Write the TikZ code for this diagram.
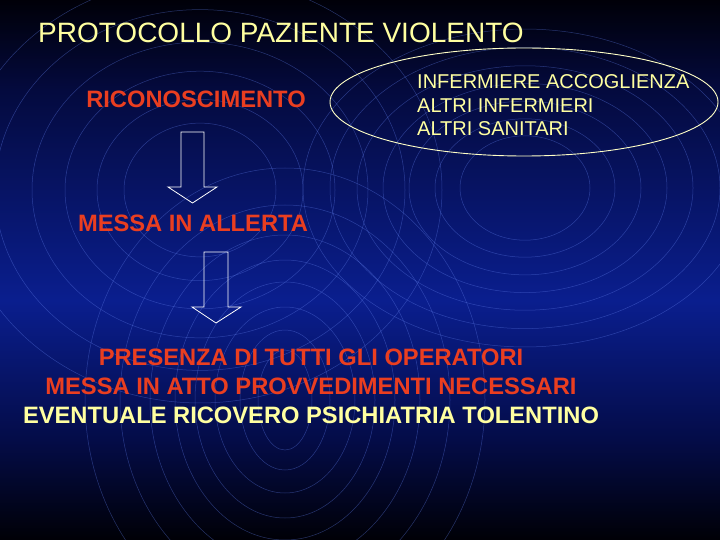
\documentclass[tikz,border=0pt]{standalone}
\usepackage{fontspec}
\setmainfont{Liberation Sans}
\usetikzlibrary{shapes.geometric}
\definecolor{ttl}{RGB}{255,255,160}
\definecolor{rd}{RGB}{234,62,32}
\definecolor{ringc}{RGB}{95,125,235}
\definecolor{bgA}{RGB}{0,0,6}
\definecolor{bgB}{RGB}{4,12,72}
\definecolor{bgC}{RGB}{10,30,142}
\definecolor{bgD}{RGB}{4,10,62}
\definecolor{bgE}{RGB}{0,0,8}
\pgfdeclareverticalshading{slidebg}{100bp}{color(0bp)=(bgA); color(25bp)=(bgA); color(34.3bp)=(bgB); color(47.2bp)=(bgC); color(66.7bp)=(bgD); color(75bp)=(bgE); color(100bp)=(bgE)}
\begin{document}
\begin{tikzpicture}[x=1pt,y=-1pt,
  ringline/.style={draw=ringc, line width=0.5pt, opacity=0.4},
  titletext/.style={text=ttl, inner sep=0pt, font=\fontsize{28}{32}\selectfont},
  redtext/.style={text=rd, inner sep=0pt, font=\bfseries\fontsize{23.7}{28}\selectfont},
  yeltext/.style={text=ttl, inner sep=0pt, font=\bfseries\fontsize{23.7}{28}\selectfont},
  grouptext/.style={text=ttl, inner sep=0pt, anchor=base west, font=\fontsize{20}{24}\selectfont},
  oval/.style={ellipse, draw=ttl!60!white, line width=0.9pt, inner sep=0pt},
  blockarrow/.style={draw=white, line width=0.8pt, line join=miter}]
\useasboundingbox (0,0) rectangle (720,540);
\shade[shading=slidebg] (0,0) rectangle (720,540);
\begin{scope}
\clip (0,0) rectangle (720,540);
% ring set A
\foreach \r in {76,103,135,168,205,242}
  \draw[ringline] (200,190) ellipse [x radius=\r, y radius=0.88*\r];
% ring set B
\foreach \r in {65,90,116,142,168,195,222}
  \draw[ringline] (525,188) ellipse [x radius=\r, y radius=0.68*\r+8];
% ring set C
\foreach \a/\b in {27/50,45/70,70/93,90/118,110/140,135/165,165/195,200/232}
  \draw[ringline] (285,400) ellipse [x radius=\a, y radius=\b];
\end{scope}
% texts
\node[titletext, anchor=base west] (title) at (38,43) {PROTOCOLLO PAZIENTE VIOLENTO};
\node[redtext, anchor=base] (ric) at (196,108) {RICONOSCIMENTO};
\node[redtext, anchor=base] (allerta) at (193,231) {MESSA IN ALLERTA};
\node[oval, minimum width=388pt, minimum height=108pt] (group) at (524,102) {};
\node[grouptext] (g1) at (417,89) {INFERMIERE ACCOGLIENZA};
\node[grouptext] (g2) at (417,112.5) {ALTRI INFERMIERI};
\node[grouptext] (g3) at (417,136) {ALTRI SANITARI};
\node[redtext, anchor=base] (op1) at (311,365) {PRESENZA DI TUTTI GLI OPERATORI};
\node[redtext, anchor=base] (op2) at (311,394) {MESSA IN ATTO PROVVEDIMENTI NECESSARI};
\node[yeltext, anchor=base] (op3) at (311,423) {EVENTUALE RICOVERO PSICHIATRIA TOLENTINO};
% block arrows
\coordinate (a1) at (192.5,132);
\draw[blockarrow] (181,132) -- (204,132) -- (204,187) -- (217,187) -- (192.5,203) -- (168,187) -- (181,187) -- cycle;
\coordinate (a2) at (216,252);
\draw[blockarrow] (204,252) -- (228,252) -- (228,307) -- (241,307) -- (216,323) -- (192,307) -- (204,307) -- cycle;
\end{tikzpicture}
\end{document}
